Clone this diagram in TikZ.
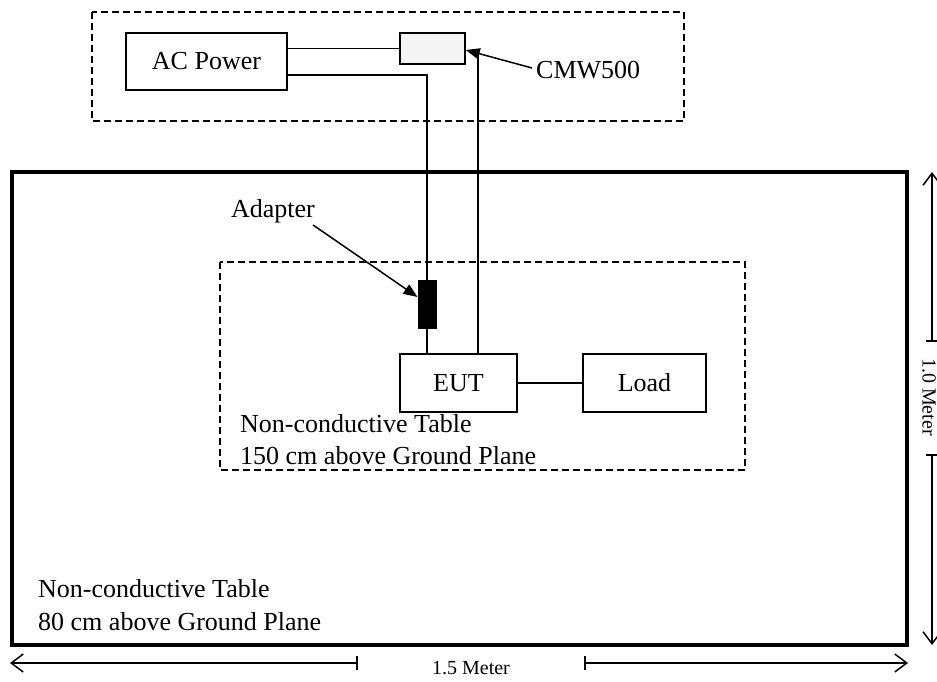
\documentclass[tikz,border=0pt]{standalone}
\usepackage{fontspec}
\setmainfont{Liberation Serif}
\usetikzlibrary{arrows.meta}
\begin{document}
\begin{tikzpicture}[x=1pt,y=-1pt,
  lbl/.style={font=\fontsize{26}{30}\selectfont, inner sep=0pt},
  dimlbl/.style={font=\fontsize{20}{22}\selectfont, inner sep=0pt},
  unit/.style={draw, line width=1.5pt, inner sep=0pt, font=\fontsize{26}{30}\selectfont},
  wire/.style={line width=1.5pt},
  zone/.style={draw, line width=1.5pt, dash pattern=on 7pt off 4pt},
  pointer/.style={line width=1.5pt, -{Triangle[length=14pt,width=11pt]}},
  dimline/.style={line width=1.2pt},
  dimtip/.style={-{Straight Barb[length=12pt,width=18pt,line width=1.5pt]}},
  tick/.style={line width=1.2pt}]
\useasboundingbox (0,0) rectangle (937,682);

% dashed zones and the ground-plane table
\draw[zone] (92,12) rectangle (684,121);
\draw[zone] (220,262) rectangle (745,470);
\draw[line width=3.5pt] (12,172) rectangle (907,645);

% equipment
\node[unit, minimum width=161pt, minimum height=57pt] (acpower) at (206.5,61.5) {AC Power};
\node[unit, fill=black!4, minimum width=65pt, minimum height=31pt] (cmw) at (432.5,48.5) {};
\node[draw, fill=black, line width=1pt, minimum width=18pt, minimum height=48pt, inner sep=0pt] (adapter) at (427,304) {};
\node[unit, minimum width=117pt, minimum height=58pt] (eut) at (458.5,383) {EUT};
\node[unit, minimum width=123pt, minimum height=58pt] (load) at (644.5,383) {Load};

% cabling
\coordinate (bend) at (427,75);
\coordinate (tap) at (478,50);
\draw[wire] (acpower.east |- cmw.west) -- (cmw.west);
\draw[wire] (acpower.east |- bend) -- (bend) -- (adapter.north);
\draw[wire] (adapter.south) -- (adapter.south |- eut.north);
\draw[wire] (eut.north -| tap) -- (tap);
\draw[wire] (eut.east) -- (load.west);

% labels with pointers
\node[lbl, anchor=west] (cmwlbl) at (536,70) {CMW500};
\draw[pointer] (cmwlbl.west) ++(-4,-2) coordinate (cmwtail) -- (cmw.east |- tap);
\node[lbl] (adlbl) at (273,211) {Adapter};
\draw[pointer] (adlbl.south east) ++(-2,2) coordinate (adtail) -- (adapter.west |- 0,297);

% table captions
\node[lbl, anchor=base west] (tbl1a) at (240,432) {Non-conductive Table};
\node[lbl, anchor=base west] (tbl1b) at (240,464) {150 cm above Ground Plane};
\node[lbl, anchor=base west] (tbl2a) at (38,597) {Non-conductive Table};
\node[lbl, anchor=base west] (tbl2b) at (38,630) {80 cm above Ground Plane};

% 1.0 m dimension
\node[dimlbl, rotate=-90] (hdim) at (929,397) {1.0 Meter};
\coordinate (vtop) at (932,172);
\coordinate (vbot) at (932,645);
\coordinate (vt1) at (932,341);
\coordinate (vt2) at (932,455);
\draw[dimline, dimtip] (vt1) -- (vtop);
\draw[dimline, dimtip] (vt2) -- (vbot);
\draw[tick] ([xshift=-6pt]vt1) -- ([xshift=6pt]vt1);
\draw[tick] ([xshift=-6pt]vt2) -- ([xshift=6pt]vt2);

% 1.5 m dimension
\node[dimlbl] (wdim) at (471,668) {1.5 Meter};
\coordinate (hl) at (10,663);
\coordinate (hr) at (908,663);
\coordinate (ht1) at (357,663);
\coordinate (ht2) at (585,663);
\draw[dimline, dimtip] (ht1) -- (hl);
\draw[dimline, dimtip] (ht2) -- (hr);
\draw[tick] ([yshift=-7pt]ht1) -- ([yshift=7pt]ht1);
\draw[tick] ([yshift=-7pt]ht2) -- ([yshift=7pt]ht2);
\end{tikzpicture}
\end{document}
